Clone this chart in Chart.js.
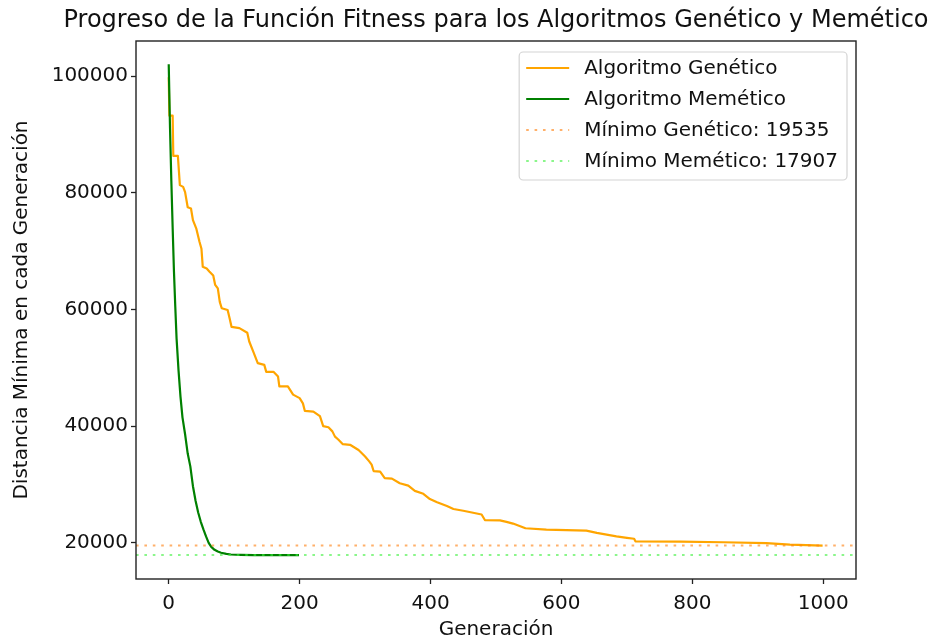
<!DOCTYPE html>
<html>
<head>
<meta charset="utf-8">
<script src="https://cdn.jsdelivr.net/npm/chart.js@4.4.1/dist/chart.umd.min.js"></script>
<style>
  html, body { margin: 0; padding: 0; background: #ffffff; }
  #wrap { width: 937px; height: 640px; }
</style>
</head>
<body>
<div id="wrap"><canvas id="chart" width="937" height="640"></canvas></div>
<script>
// Best distance found in each generation (genetic algorithm, 1000 generations)
const genGeneraciones = [0, 1, 6, 7, 14, 17, 22, 25, 29, 34, 37, 42, 47, 50, 52, 58, 62, 68, 71, 75,
  78, 81, 90, 93, 96, 108, 120, 123, 129, 136, 146, 149, 160, 167, 169, 182, 190, 200, 205, 208,
  221, 231, 236, 244, 250, 254, 259, 266, 277, 290, 300, 306, 310, 313, 323, 330, 341, 353, 366, 376,
  389, 399, 410, 425, 435, 450, 465, 478, 483, 506, 516, 526, 537, 545, 577, 638, 654, 669, 684, 700,
  711, 713, 781, 847, 913, 949, 999];
const genDistancias = [99800, 93200, 93200, 86300, 86300, 81300, 81000, 80100, 77500, 77300, 75300, 73900, 71600, 70400, 67300, 67000, 66500, 65800, 64200, 63600,
  61300, 60200, 59900, 58500, 57000, 56800, 56000, 54500, 52800, 50800, 50500, 49300, 49300, 48500, 46800, 46800, 45400, 44800, 43900, 42600,
  42500, 41700, 40000, 39800, 39100, 38200, 37700, 36900, 36800, 35900, 34800, 34000, 33400, 32300, 32200, 31100, 31000, 30200, 29800, 28900,
  28400, 27500, 26950, 26300, 25800, 25500, 25150, 24850, 23900, 23850, 23600, 23300, 22850, 22500, 22250, 22100, 21700, 21400, 21100, 20850,
  20700, 20250, 20200, 20100, 19950, 19700, 19535];

// Best distance found in each generation (memetic algorithm, 200 generations)
const memGeneraciones = [0, 2, 4, 6, 8, 10, 12, 15, 18, 21, 25, 29, 33, 37, 41, 45, 49, 53, 57, 61,
  65, 70, 75, 80, 88, 95, 110, 130, 199];
const memDistancias = [102000, 91000, 82000, 74000, 66500, 60500, 55000, 49500, 45000, 41500, 38600, 35300, 33100, 29700, 27200, 25200, 23600, 22300, 21100, 20000,
  19300, 18800, 18500, 18300, 18100, 18000, 17950, 17907, 17907];

const minimoGenetico = 19535;
const minimoMemetico = 17907;

const xTicks = [0, 200, 400, 600, 800, 1000];
const yTicks = [20000, 40000, 60000, 80000, 100000];

const TITULO = 'Progreso de la Función Fitness para los Algoritmos Genético y Memético';
const FONT = 'DejaVu Sans';
const TEXT = '#111111';

const toPoints = (xs, ys) => xs.map((x, i) => ({ x: x, y: ys[i] }));
const flat = (v) => [{ x: -50, y: v }, { x: 1050, y: v }];

// Title centred over the plot area
const plotTitle = {
  id: 'plotTitle',
  afterDraw(chart) {
    const { ctx, chartArea: a } = chart;
    ctx.save();
    ctx.font = '24px "' + FONT + '"';
    ctx.fillStyle = TEXT;
    ctx.textAlign = 'center';
    ctx.textBaseline = 'middle';
    ctx.fillText(TITULO, (a.left + a.right) / 2, a.top - 20);
    ctx.restore();
  }
};

// Axes frame on all four sides
const frame = {
  id: 'frame',
  afterDraw(chart) {
    const { ctx, chartArea: a } = chart;
    ctx.save();
    ctx.strokeStyle = '#222';
    ctx.lineWidth = 1.4;
    ctx.strokeRect(a.left, a.top, a.right - a.left, a.bottom - a.top);
    ctx.restore();
  }
};

// Boxed legend in the upper right corner of the plot
const legendBox = {
  id: 'legendBox',
  afterDraw(chart) {
    const { ctx, chartArea: a } = chart;
    const sets = chart.data.datasets;
    ctx.save();
    ctx.font = '20px "' + FONT + '"';
    const textW = Math.max(...sets.map(d => ctx.measureText(d.label).width));
    const w = 65 + textW + 9;
    const h = 128;
    const right = a.right - 9;
    const left = right - w;
    const top = a.top + 11;
    ctx.beginPath();
    if (ctx.roundRect) ctx.roundRect(left, top, w, h, 4); else ctx.rect(left, top, w, h);
    ctx.fillStyle = 'rgba(255,255,255,0.8)';
    ctx.fill();
    ctx.strokeStyle = '#d4d4d4';
    ctx.lineWidth = 1.2;
    ctx.stroke();
    const rowH = 31;
    sets.forEach((d, i) => {
      const cy = top + 16 + i * rowH;
      ctx.beginPath();
      ctx.strokeStyle = d.borderColor;
      ctx.lineWidth = d.borderWidth;
      ctx.setLineDash(d.borderDash || []);
      ctx.moveTo(left + 7, cy);
      ctx.lineTo(left + 50, cy);
      ctx.stroke();
      ctx.setLineDash([]);
      ctx.fillStyle = TEXT;
      ctx.textBaseline = 'middle';
      ctx.textAlign = 'left';
      ctx.fillText(d.label, left + 65, cy + 1);
    });
    ctx.restore();
  }
};

new Chart(document.getElementById('chart'), {
  type: 'line',
  data: {
    datasets: [
      {
        label: 'Algoritmo Genético',
        data: toPoints(genGeneraciones, genDistancias),
        borderColor: '#FFA500',
        borderWidth: 2.2,
        pointRadius: 0,
        tension: 0,
        borderJoinStyle: 'round',
        order: 3
      },
      {
        label: 'Algoritmo Memético',
        data: toPoints(memGeneraciones, memDistancias),
        borderColor: '#008000',
        borderWidth: 2.2,
        pointRadius: 0,
        tension: 0,
        borderJoinStyle: 'round',
        order: 2
      },
      {
        label: 'Mínimo Genético: ' + minimoGenetico,
        data: flat(minimoGenetico),
        borderColor: 'rgba(255,127,14,0.62)',
        borderWidth: 2,
        borderDash: [2.6, 5.8],
        pointRadius: 0,
        order: 1
      },
      {
        label: 'Mínimo Memético: ' + minimoMemetico,
        data: flat(minimoMemetico),
        borderColor: 'rgba(60,240,60,0.6)',
        borderWidth: 2,
        borderDash: [2.6, 5.8],
        pointRadius: 0,
        order: 0
      }
    ]
  },
  options: {
    responsive: false,
    animation: false,
    events: [],
    layout: { padding: { left: 0, right: 81, top: 41, bottom: 0 } },
    plugins: {
      legend: { display: false },
      tooltip: { enabled: false },
      title: { display: false }
    },
    scales: {
      x: {
        type: 'linear',
        min: -50,
        max: 1050,
        afterBuildTicks: (s) => { s.ticks = xTicks.map(v => ({ value: v })); },
        afterFit: (s) => { s.height = 61; },
        border: { display: false },
        grid: { drawOnChartArea: false, drawTicks: true, tickLength: 5, tickColor: '#222', tickWidth: 1.3 },
        ticks: { color: TEXT, font: { family: FONT, size: 20 }, padding: 8, maxRotation: 0, callback: (v) => String(v) },
        title: { display: true, text: 'Generación', color: TEXT, font: { family: FONT, size: 20, lineHeight: 1 }, padding: { top: 0, bottom: 0 } }
      },
      y: {
        type: 'linear',
        min: 13800,
        max: 106000,
        afterBuildTicks: (s) => { s.ticks = yTicks.map(v => ({ value: v })); },
        afterFit: (s) => { s.width = 136; },
        border: { display: false },
        grid: { drawOnChartArea: false, drawTicks: true, tickLength: 5, tickColor: '#222', tickWidth: 1.3 },
        ticks: { color: TEXT, font: { family: FONT, size: 20 }, padding: 3, callback: (v) => String(v) },
        title: { display: true, text: 'Distancia Mínima en cada Generación', color: TEXT, font: { family: FONT, size: 20, lineHeight: 1 }, padding: { top: 12, bottom: 0 } }
      }
    }
  },
  plugins: [frame, legendBox, plotTitle]
});
</script>
</body>
</html>
